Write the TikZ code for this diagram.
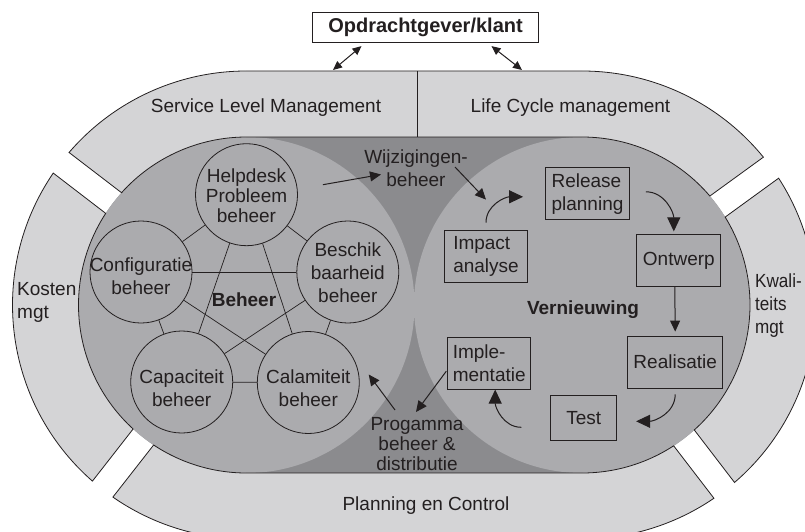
\documentclass[tikz,border=0pt]{standalone}
\usepackage{fontspec}
\setmainfont{Liberation Sans}
\newfontfamily\narrowfont[FakeStretch=0.9]{Liberation Sans}
\usetikzlibrary{arrows.meta}

\definecolor{ringgray}{RGB}{212,212,214}
\definecolor{coregray}{RGB}{139,139,142}
\definecolor{lobegray}{RGB}{171,171,174}
\definecolor{inkgray}{RGB}{35,31,32}

\begin{document}
\begin{tikzpicture}[
                    x=1pt, y=1pt,
                    every node/.style={font=\fontsize{19}{23}\selectfont, text=inkgray},
                    ringpart/.style={fill=ringgray, draw=inkgray, line width=0.8pt},
                    unitcircle/.style={circle, draw=inkgray, line width=0.8pt, minimum size=102pt, inner sep=0pt},
                    unitlbl/.style={align=center, inner sep=0pt},
                    stagebox/.style={draw=inkgray, line width=0.8pt, align=left, inner xsep=5pt, inner ysep=2pt, minimum height=52pt},
                    tie/.style={draw=inkgray, line width=0.7pt},
                    arr/.style={-{Triangle[length=11pt,width=10pt]}, draw=inkgray, line width=1pt},
                    cyc/.style={-{Triangle[length=14pt,width=13pt]}, draw=inkgray, line width=1pt},
                    dbl/.style={{Triangle[length=9pt,width=8pt]}-{Triangle[length=9pt,width=8pt]}, draw=inkgray, line width=1pt}
                ]
                  \useasboundingbox (0,0) rectangle (805,531);
                  \clip (0,0) rectangle (805,531);
                  \coordinate (CL) at (246.5,226);
                  \coordinate (CR) at (582,226);

                  % core with two lobes
                  \fill[coregray] ([shift={(CL)}]90:168pt) -- ([shift={(CR)}]90:168pt)
                    arc[start angle=90, end angle=-90, radius=168pt] -- ([shift={(CL)}]-90:168pt)
                    arc[start angle=270, end angle=90, radius=168pt] -- cycle;
                  \fill[lobegray] (CL) circle[radius=168pt] (CR) circle[radius=168pt];

                  % outer ring
                  \draw[ringpart] ([shift={(CL)}]139.32:234pt) arc[start angle=139.32, end angle=90, radius=234pt]
                    -- ([shift={(CR)}]90:234pt) arc[start angle=90, end angle=39.18, radius=234pt]
                    -- ([shift={(CR)}]40.44:168pt) arc[start angle=40.44, end angle=90, radius=168pt]
                    -- ([shift={(CL)}]90:168pt) arc[start angle=90, end angle=138.06, radius=168pt] -- cycle;
                  \draw[ringpart] ([shift={(CL)}]145.68:234pt) arc[start angle=145.68, end angle=228.82, radius=234pt]
                    -- ([shift={(CL)}]227.56:168pt) arc[start angle=227.56, end angle=146.94, radius=168pt] -- cycle;
                  \draw[ringpart] ([shift={(CL)}]235.18:234pt) arc[start angle=235.18, end angle=270, radius=234pt]
                    -- ([shift={(CR)}]270:234pt) arc[start angle=270, end angle=304.32, radius=234pt]
                    -- ([shift={(CR)}]303.06:168pt) arc[start angle=303.06, end angle=270, radius=168pt]
                    -- ([shift={(CL)}]270:168pt) arc[start angle=270, end angle=236.44, radius=168pt] -- cycle;
                  \draw[ringpart] ([shift={(CR)}]-49.32:234pt) arc[start angle=-49.32, end angle=32.82, radius=234pt]
                    -- ([shift={(CR)}]31.56:168pt) arc[start angle=31.56, end angle=-48.06, radius=168pt] -- cycle;
                  \draw[tie] (417,394) -- (417,460);

                  \node[draw=inkgray, line width=0.8pt, fill=white, font=\fontsize{20}{24}\selectfont\bfseries,
                        minimum width=226pt, minimum height=30pt, inner sep=0pt] (client) at (425.5,503.3) {Opdrachtgever/klant};
                  \coordinate (slmtop) at (333,461);
                  \coordinate (lcmtop) at (522,461);
                  \draw[dbl] ([xshift=-64pt,yshift=-3pt]client.south) -- (slmtop);
                  \draw[dbl] ([xshift=66pt,yshift=-3pt]client.south) -- (lcmtop);

                  \node (slm) at (266,423) {Service Level Management};
                  \node (lcm) at (570.5,423) {Life Cycle management};
                  \node[align=left, anchor=west, inner sep=0pt] (cost) at (17,229) {Kosten\\mgt};
                  \node[align=left, anchor=west, inner sep=0pt, font=\fontsize{19}{23}\narrowfont] (quality) at (755,225) {Kwali-\\teits\\mgt};
                  \node (pc) at (426,25) {Planning en Control};

                  % Beheer
                  \node[font=\fontsize{19}{23}\selectfont\bfseries] (beheer) at (244,231) {Beheer};
                  \node[unitcircle, label={[unitlbl, yshift=-1pt, font=\fontsize{19}{20}\selectfont]center:Helpdesk\\Probleem\\beheer}] (help) at (246.5,336.3) {};
                  \node[unitcircle, label={[unitlbl, yshift=-4pt]center:Configuratie\\beheer}] (conf) at (141,259) {};
                  \node[unitcircle, label={[unitlbl, yshift=-1pt]center:Beschik\\baarheid\\beheer}] (besch) at (347.8,259) {};
                  \node[unitcircle, label={[unitlbl, yshift=-6pt]center:Capaciteit\\beheer}] (capa) at (181.7,149) {};
                  \node[unitcircle, label={[unitlbl, yshift=-6pt]center:Calamiteit\\beheer}] (cala) at (308.3,148.5) {};
                  \foreach \a/\b in {help/conf, help/besch, help/capa, help/cala, conf/besch,
                                     conf/capa, conf/cala, besch/capa, besch/cala, capa/cala}
                    \draw[tie] (\a) -- (\b);

                  % Vernieuwing
                  \node[font=\fontsize{19}{23}\selectfont\bfseries] (vern) at (583,221) {Vernieuwing};
                  \node[stagebox, minimum width=84pt] (release) at (587.5,337.2) {Release\\planning};
                  \node[stagebox, minimum width=84pt] (ontwerp) at (678.8,270.2) {Ontwerp};
                  \node[stagebox, minimum width=95pt] (realisatie) at (675.2,169) {Realisatie};
                  \node[stagebox, minimum width=66pt, minimum height=45pt] (test) at (583.7,112.7) {Test};
                  \node[stagebox, minimum width=83pt] (impl) at (489.2,167.8) {Imple-\\mentatie};
                  \node[stagebox, minimum width=83pt] (impact) at (486,275) {Impact\\analyse};
                  \draw[cyc] ([yshift=7pt]impact.north) to[out=90, in=180] ([xshift=-22pt,yshift=-3pt]release.west);
                  \draw[cyc] ([xshift=16pt,yshift=2pt]release.east) to[out=0, in=90] ([xshift=-5pt,yshift=3pt]ontwerp.north);
                  \draw[arr] ([xshift=-4pt]ontwerp.south) -- ([yshift=4pt]realisatie.north);
                  \draw[cyc] ([yshift=-6pt]realisatie.south) to[out=-90, in=0] ([xshift=19pt,yshift=-3pt]test.east);
                  \draw[cyc] ([xshift=-29pt,yshift=-9pt]test.west) to[out=180, in=-90] ([xshift=6pt]impl.south);

                  % between the two
                  \node[align=center] (change) at (416,363) {Wijzigingen-\\beheer};
                  \node[align=center, font=\fontsize{19}{20.4}\selectfont] (prog) at (417,87) {Progamma\\beheer \&\\distributie};
                  \draw[arr] ([shift={(25pt,10pt)}]help.east) -- ([xshift=-35pt,yshift=-6.5pt]change.center);
                  \draw[arr] ([xshift=39pt,yshift=1pt]change.center) -- ([yshift=30pt]impact.north);
                  \draw[arr] ([xshift=-22pt,yshift=34pt]prog.center) -- ([shift={(9pt,8pt)}]cala.east);
                  \draw[arr] ([xshift=-1pt,yshift=-8pt]impl.west) -- ([xshift=-1pt,yshift=32pt]prog.center);
                \end{tikzpicture}
\end{document}
